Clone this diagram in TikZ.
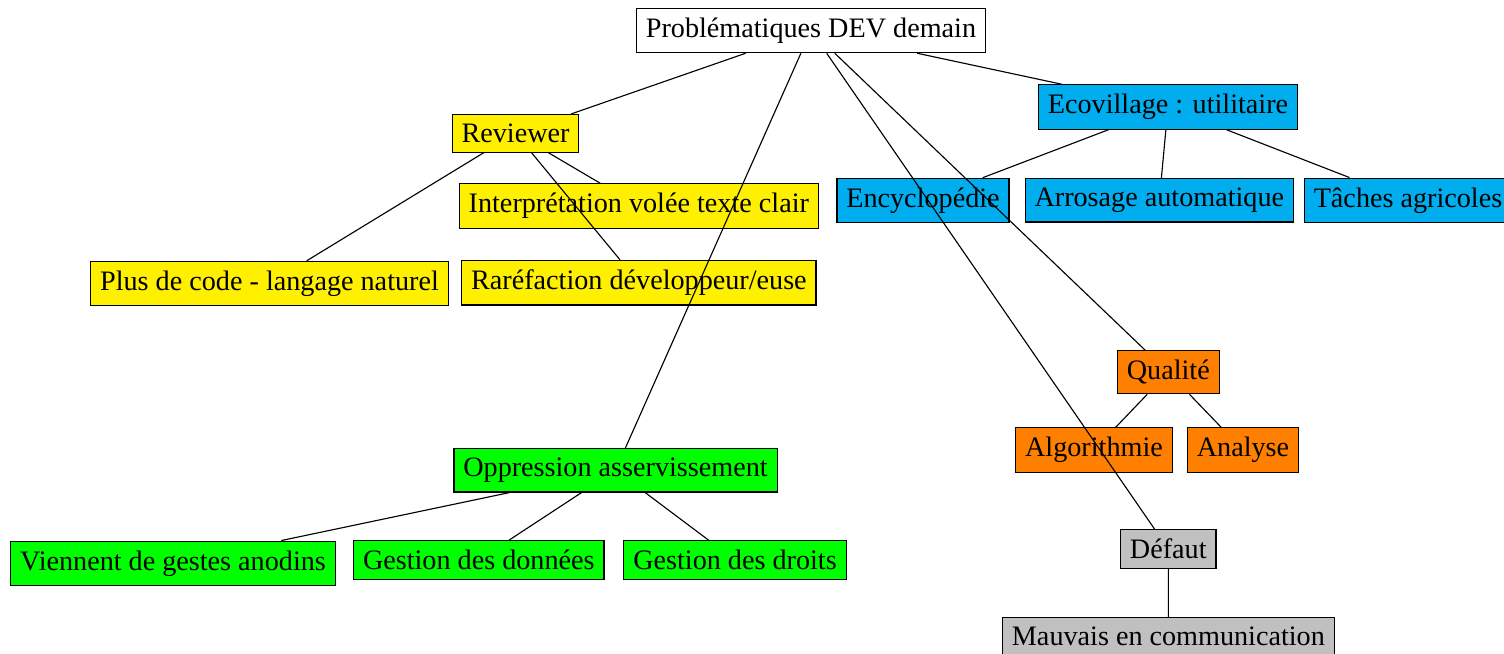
\documentclass[tikz,border=0pt]{standalone}
\usepackage{fontspec}
\setmainfont{Liberation Serif}
\definecolor{jaune}{RGB}{255,240,0}
\definecolor{bleu}{RGB}{0,174,239}
\definecolor{vert}{RGB}{0,255,0}
\definecolor{orangeq}{RGB}{255,128,0}
\definecolor{gris}{RGB}{192,192,192}

\begin{document}
\begin{tikzpicture}[x=0.355pt,y=-0.355pt,
    box/.style={draw, fill=#1}]
  \useasboundingbox (0,0) rectangle (1504,654);
  \node[box=white] (Problematiques) at (811,30.5) {Problématiques DEV demain};
  \node[box=jaune] (Reviewer) at (515.5,133.3) {Reviewer};
  \node[box=jaune] (Interpretation) at (638.8,206) {Interprétation volée texte clair};
  \node[box=jaune] (PlusDeCode) at (269.5,283.5) {Plus de code - langage naturel};
  \node[box=jaune] (Rarefaction) at (638.9,282.7) {Raréfaction développeur/euse};
  \node[box=bleu] (Ecovillage) at (1168,107) {Ecovillage : utilitaire};
  \node[box=bleu] (Encyclopedie) at (923,200.5) {Encyclopédie};
  \node[box=bleu] (Arrosage) at (1159.3,200.3) {Arrosage automatique};
  \node[box=bleu] (Taches) at (1408,200.3) {Tâches agricoles};
  \node[box=orangeq] (Qualite) at (1168.3,372.3) {Qualité};
  \node[box=orangeq] (Algorithmie) at (1094,450) {Algorithmie};
  \node[box=orangeq] (Analyse) at (1243,450) {Analyse};
  \node[box=vert] (Oppression) at (615.5,470.3) {Oppression asservissement};
  \node[box=vert] (Viennent) at (173,563.3) {Viennent de gestes anodins};
  \node[box=vert] (GestionDonnees) at (478.8,560) {Gestion des données};
  \node[box=vert] (GestionDroits) at (735,560) {Gestion des droits};
  \node[box=gris] (Defaut) at (1168.3,549) {Défaut};
  \node[box=gris] (Mauvais) at (1168.4,636.5) {Mauvais en communication};

  \draw (Problematiques) -- (Reviewer);
  \draw (Problematiques) -- (Oppression);
  \draw (Problematiques) -- (Defaut);
  \draw (Problematiques) -- (Qualite);
  \draw (Problematiques) -- (Ecovillage);
  \draw (Reviewer) -- (Interpretation);
  \draw (Reviewer) -- (PlusDeCode);
  \draw (Reviewer) -- (Rarefaction);
  \draw (Ecovillage) -- (Encyclopedie);
  \draw (Ecovillage) -- (Arrosage);
  \draw (Ecovillage) -- (Taches);
  \draw (Qualite) -- (Algorithmie);
  \draw (Qualite) -- (Analyse);
  \draw (Oppression) -- (Viennent);
  \draw (Oppression) -- (GestionDonnees);
  \draw (Oppression) -- (GestionDroits);
  \draw (Defaut) -- (Mauvais);
\end{tikzpicture}
\end{document}
